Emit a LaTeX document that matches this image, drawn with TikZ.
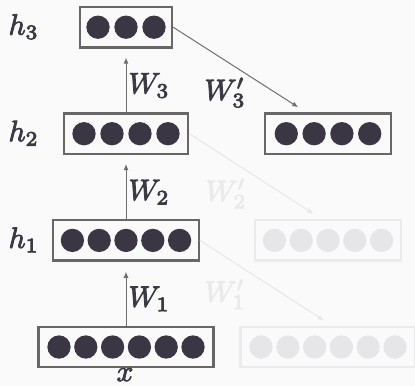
\documentclass[tikz,border=0pt]{standalone}
\usetikzlibrary{arrows.meta,calc}

\definecolor{bg}{HTML}{FAFAFA}
\definecolor{unit}{HTML}{3A3643}
\definecolor{frame}{HTML}{676767}
\definecolor{ink}{HTML}{3A3A44}
\definecolor{wire}{HTML}{6E6E6E}
\definecolor{ghostunit}{HTML}{E6E6E8}
\definecolor{ghostframe}{HTML}{EBEBEB}
\definecolor{ghostink}{HTML}{EAEAEA}
\definecolor{ghostwire}{HTML}{E8E8E8}

% glyphs filled and lightly stroked, for a heavier label face
\newcommand{\heavytext}[1]{%
  \special{pdf:literal direct 2 Tr 0.28 w}#1\special{pdf:literal direct 0 Tr 0.4 w}}

\tikzset{
  layerbox/.style={draw=frame, line width=2.3pt, minimum height=40.4pt, inner sep=0pt},
  ghostbox/.style={draw=ghostframe, line width=2.3pt, minimum height=40.4pt, inner sep=0pt},
  neuron/.style={circle, fill=unit, minimum size=23.3pt, inner sep=0pt},
  ghostneuron/.style={circle, fill=ghostunit, minimum size=23.3pt, inner sep=0pt},
  lbl/.style={font=\fontsize{10}{12}\selectfont, text=ink, inner sep=0pt, scale=2.95, transform shape},
  ghostlbl/.style={lbl, text=ghostink},
  arr/.style={draw=wire, line width=1pt, -{Latex[length=6pt,width=5pt]}},
  ghostarr/.style={draw=ghostwire, line width=1pt, -{Latex[length=6pt,width=5pt]}},
}

% name, centre x, centre y, units, unit spacing, outer width, box style, unit style
\newcommand{\layerrow}[8]{%
  \node[#7, minimum width={#6-2.3pt}] (#1) at (#2,#3) {};
  \foreach \k in {1,...,#4} {
    \node[#8] (#1-\k) at ({#2+(\k-(#4+1)/2)*#5}, #3) {};
  }
}

\begin{document}
\begin{tikzpicture}[x=1pt,y=-1pt]
  \fill[bg] (0,0) rectangle (415,386);
  \useasboundingbox (0,0) rectangle (415,386);

  % encoder stack
  \layerrow{hthree}{126}{27.2}{3}{28}{94.3pt}{layerbox}{neuron}
  \layerrow{htwo}{126}{133.7}{4}{28}{126.7pt}{layerbox}{neuron}
  \layerrow{hone}{126}{240.4}{5}{26.8}{147.7pt}{layerbox}{neuron}
  \layerrow{xin}{126}{347}{6}{26.8}{177.4pt}{layerbox}{neuron}

  % reconstructions
  \layerrow{rthree}{328}{133.7}{4}{27.8}{127.7pt}{layerbox}{neuron}
  \layerrow{rtwo}{328}{240.4}{5}{26.8}{148.3pt}{ghostbox}{ghostneuron}
  \layerrow{rone}{328}{347}{6}{26.8}{177.4pt}{ghostbox}{ghostneuron}

  % arrow tips stop short of their targets
  \coordinate (tipthree) at ($(hthree.south)+(0,9)$);
  \coordinate (tiptwo) at ($(htwo.south)+(0,9)$);
  \coordinate (tipone) at ($(hone.south)+(0,10)$);
  \coordinate (dthree) at ($(hthree.east)+(125,80)$);
  \coordinate (dtwo) at ($(htwo.east)+(124,80)$);
  \coordinate (done) at ($(hone.east)+(124,80)$);

  \draw[arr] (htwo.north) -- (tipthree);
  \draw[arr] (hone.north) -- (tiptwo);
  \draw[arr] (xin.north) -- (tipone);

  \draw[ghostarr] (htwo.east) -- (dtwo);
  \draw[ghostarr] (hone.east) -- (done);
  \draw[arr] (hthree.east) -- (dthree);

  % labels
  \node[lbl, anchor=base west] (lw3) at (128,93.3) {\heavytext{$W_3$}};
  \node[lbl, anchor=base west] (lw2) at (128,200) {\heavytext{$W_2$}};
  \node[lbl, anchor=base west] (lw1) at (128,306.7) {\heavytext{$W_1$}};
  \node[lbl, anchor=base west] (lv3) at (204,100) {\heavytext{$W_3'$}};
  \node[ghostlbl, anchor=base west] (lv2) at (205,201) {\heavytext{$W_2'$}};
  \node[ghostlbl, anchor=base west] (lv1) at (204,301.7) {\heavytext{$W_1'$}};

  \node[lbl, anchor=base west] (lh3) at (8,34.7) {\heavytext{$h_3$}};
  \node[lbl, anchor=base west] (lh2) at (8,141.2) {\heavytext{$h_2$}};
  \node[lbl, anchor=base west] (lh1) at (8,247.9) {\heavytext{$h_1$}};
  \node[lbl, anchor=base] (lx) at (125,381) {\heavytext{$x$}};
\end{tikzpicture}
\end{document}
